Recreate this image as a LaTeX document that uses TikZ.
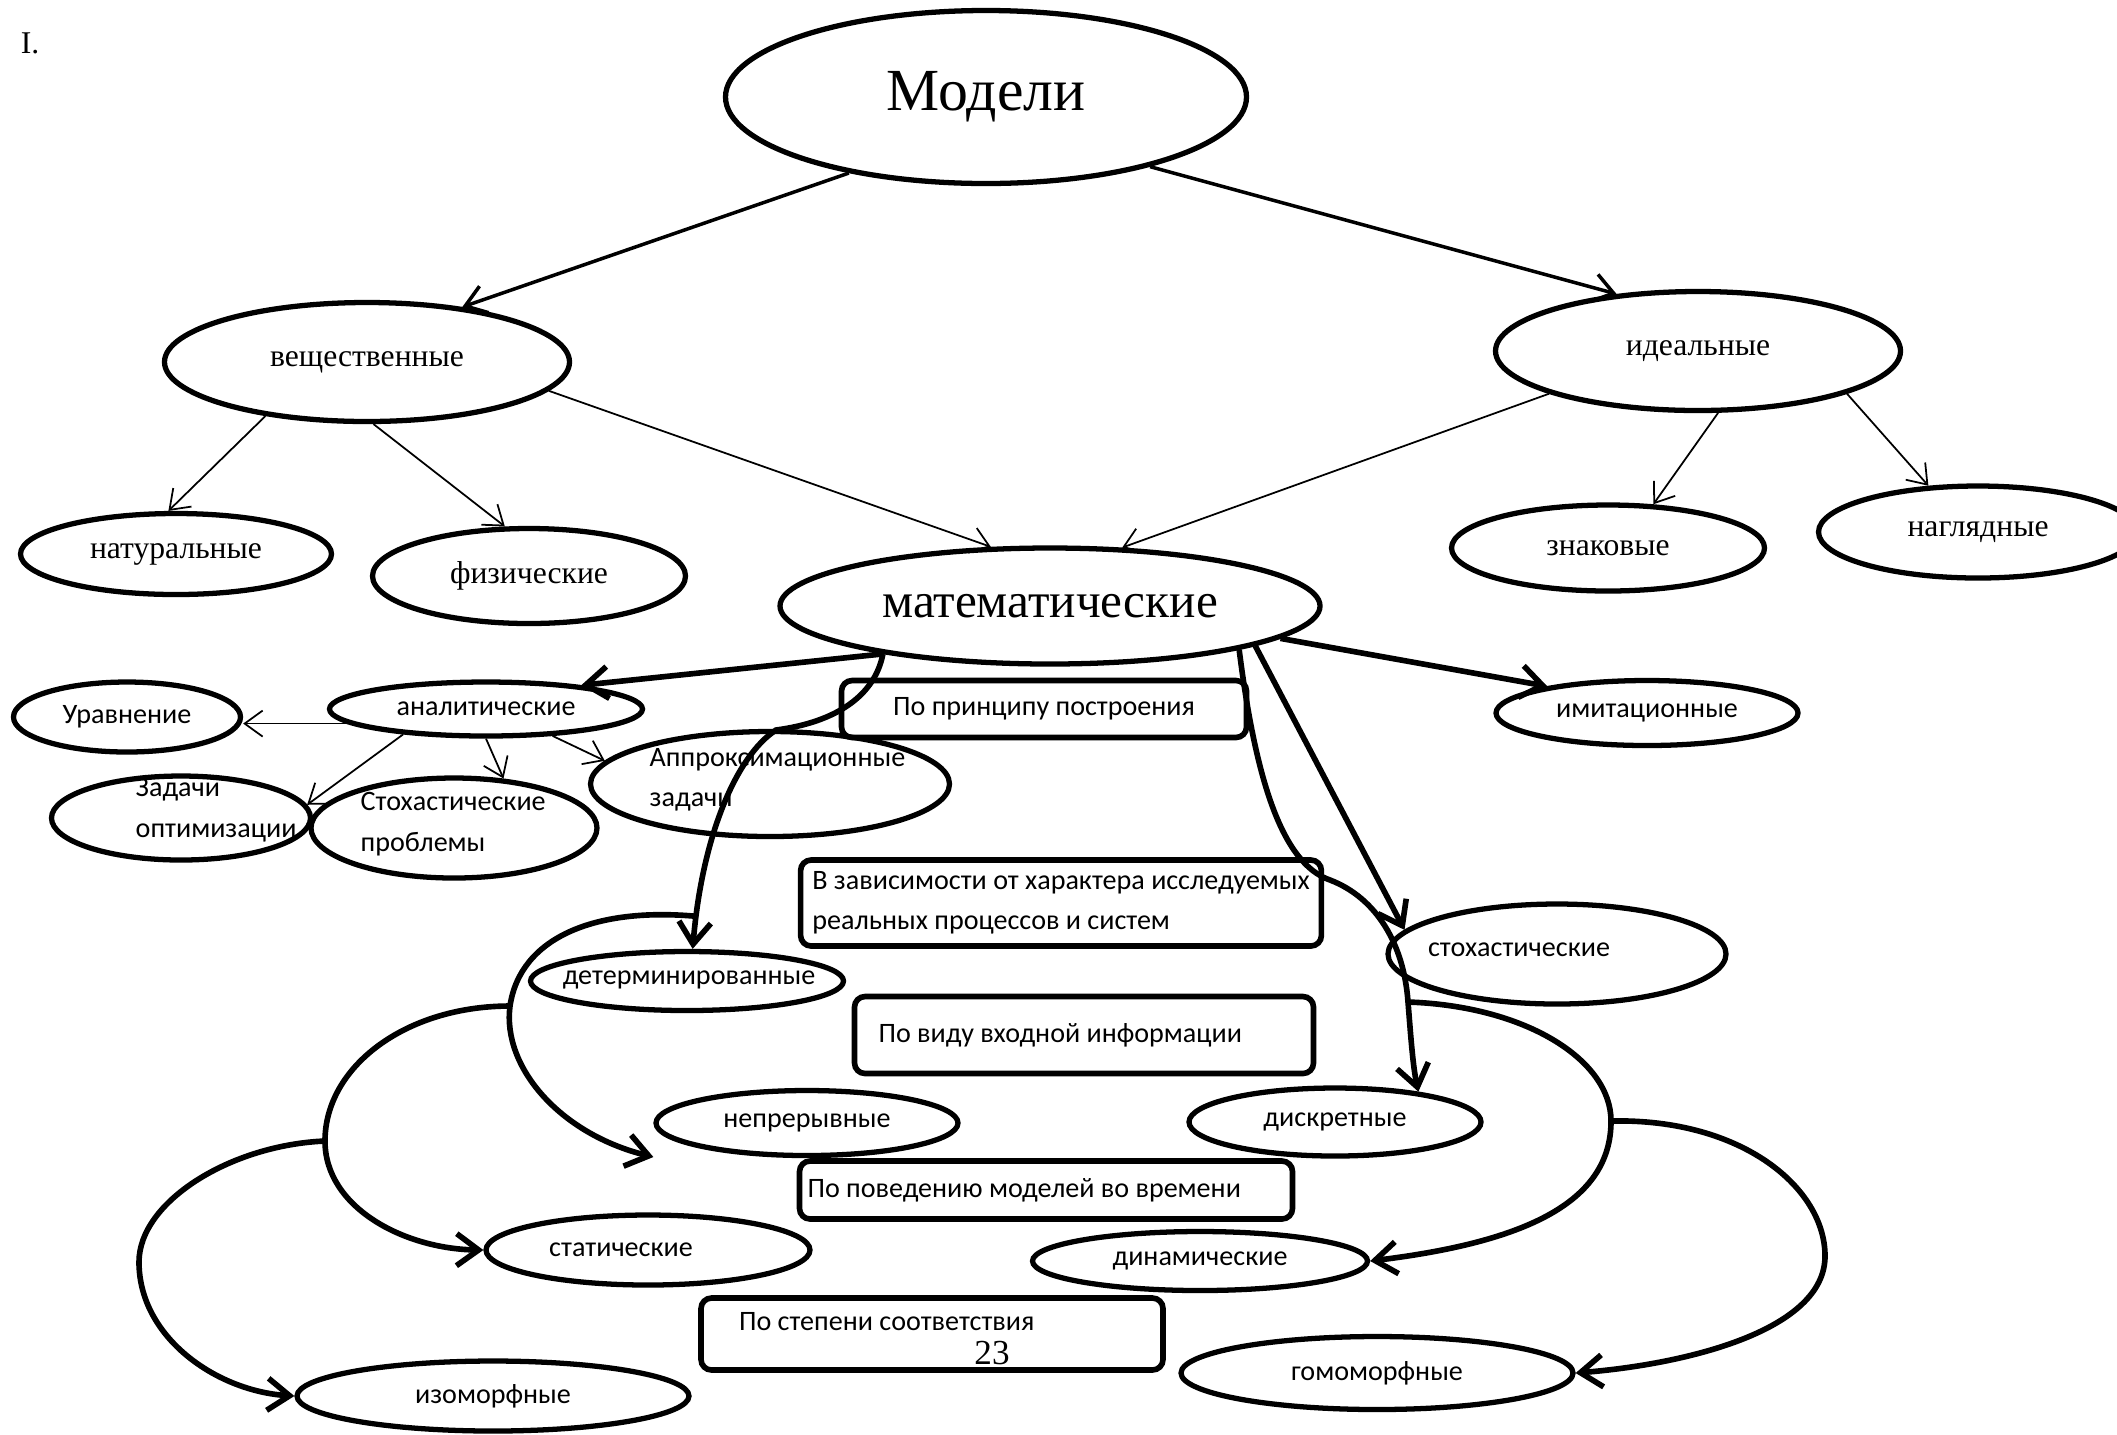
\documentclass[tikz,border=0pt]{standalone}
\usepackage{fontspec}
\setmainfont{Liberation Serif}
\newfontfamily\sansru{Carlito}
\usetikzlibrary{arrows.meta,shapes.geometric}

\begin{document}
\begin{tikzpicture}[
  font=\fontsize{9}{11}\selectfont,
  oval/.style={draw, ellipse, line width=1.5pt, inner sep=0pt},
  sansoval/.style={oval, font=\sansru\fontsize{8}{11.5}\selectfont},
  ovaltxt/.style={inner sep=0pt, align=left, font=\sansru\fontsize{8}{11.5}\selectfont},
  critbox/.style={draw, rounded corners=3pt, line width=1.6pt, inner ysep=0pt,
                  align=flush left, font=\sansru\fontsize{8}{11.5}\selectfont},
  thinarr/.style={-{Straight Barb[length=1.8mm, width=2.6mm]}, line width=0.5pt},
  midarr/.style={-{Straight Barb[length=2mm, width=2.8mm]}, line width=1pt},
  boldarr/.style={-{Straight Barb[length=2.2mm, width=3.2mm]}, line width=1.6pt}
]
\useasboundingbox (0,0) rectangle (21.17,-14.34);
%--- Level 1 ----------------------------------------------------------------
\node (roman) at (0.30,-0.43) {I.};
\node[oval, minimum width=5.21cm, minimum height=1.73cm,
      font=\fontsize{17}{20}\selectfont] (model) at (9.86,-0.97) {Модели};
%--- Level 2 ----------------------------------------------------------------
\node[oval, minimum width=4.05cm, minimum height=1.19cm] (veshch) at (3.67,-3.62) {вещественные};
\node[oval, minimum width=4.05cm, minimum height=1.19cm] (ideal)  at (16.98,-3.51) {идеальные};
%--- Level 3 ----------------------------------------------------------------
\node[oval, minimum width=3.11cm, minimum height=0.81cm] (natur) at (1.76,-5.54) {натуральные};
\node[oval, minimum width=3.13cm, minimum height=0.95cm] (fiz)   at (5.29,-5.76) {физические};
\node[oval, minimum width=5.40cm, minimum height=1.16cm,
      font=\fontsize{14}{16}\selectfont] (mat) at (10.50,-6.06) {математические};
\node[oval, minimum width=3.13cm, minimum height=0.86cm] (znak)  at (16.08,-5.48) {знаковые};
\node[oval, minimum width=3.19cm, minimum height=0.92cm] (nagl)  at (19.78,-5.32) {наглядные};
%--- Kinds of mathematical models -------------------------------------------
\node[sansoval, minimum width=3.13cm, minimum height=0.54cm] (analyt) at (4.86,-7.09) {аналитические};
\node[sansoval, minimum width=2.27cm, minimum height=0.70cm] (urav)   at (1.27,-7.17) {Уравнение};
\node[sansoval, minimum width=2.59cm, minimum height=0.84cm] (optim)  at (1.81,-8.18) {};
\node[sansoval, minimum width=2.86cm, minimum height=1.00cm] (stohp)  at (4.54,-8.28) {};
\node[sansoval, minimum width=3.59cm, minimum height=1.05cm] (approx) at (7.70,-7.84) {};
\node[sansoval, minimum width=3.02cm, minimum height=0.65cm] (imit)   at (16.47,-7.13) {имитационные};
\node[sansoval, minimum width=3.38cm, minimum height=1.00cm] (stoch)  at (15.57,-9.54) {};
\node[sansoval, minimum width=3.13cm, minimum height=0.59cm] (deter)  at (6.87,-9.81) {};
\node[sansoval, minimum width=3.02cm, minimum height=0.65cm] (nepr)   at (8.07,-11.23) {непрерывные};
\node[sansoval, minimum width=2.92cm, minimum height=0.68cm] (diskr)  at (13.35,-11.22) {дискретные};
\node[sansoval, minimum width=3.24cm, minimum height=0.70cm] (stat)   at (6.48,-12.50) {};
\node[sansoval, minimum width=3.35cm, minimum height=0.59cm] (dinam)  at (12.00,-12.61) {динамические};
\node[sansoval, minimum width=3.92cm, minimum height=0.70cm] (izo)    at (4.93,-13.96) {изоморфные};
\node[sansoval, minimum width=3.92cm, minimum height=0.73cm] (homo)   at (13.77,-13.73) {гомоморфные};
%--- Texts set off the centre of their ovals --------------------------------
\node[ovaltxt, anchor=west] (optimtxt)  at (1.35,-8.10) {Задачи\\оптимизации};
\node[ovaltxt, anchor=west] (stohptxt)  at (3.60,-8.24) {Стохастические\\проблемы};
\node[ovaltxt, anchor=west] (approxtxt) at (6.49,-7.80) {Аппроксимационные\\задачи};
\node[ovaltxt] (stochtxt) at (15.19,-9.50) {стохастические};
\node[ovaltxt] (detertxt) at (6.89,-9.80) {детерминированные};
\node[ovaltxt] (stattxt)  at (6.21,-12.50) {статические};
%--- Criteria boxes ---------------------------------------------------------
\node[critbox, minimum width=4.05cm, minimum height=0.57cm, align=center] (princip) at (10.44,-7.09) {По принципу построения};
\node[critbox, minimum width=5.16cm, minimum height=0.86cm] (harakter) at (10.61,-9.03)
  {В зависимости от характера исследуемых\\реальных процессов и систем};
\node[critbox, text width=4.11cm, inner xsep=0.24cm, minimum height=0.77cm] (vhod) at (10.84,-10.35) {По виду входной информации};
\node[critbox, text width=4.77cm, inner xsep=0.08cm, minimum height=0.58cm] (vremya) at (10.46,-11.90) {По поведению моделей во времени};
\node[critbox, text width=3.86cm, inner xsep=0.38cm, text depth=0.25cm,
      minimum height=0.72cm] (sootv) at (9.32,-13.34) {По степени соответствия};
\node[font=\fontsize{10}{12}\selectfont] (pagenum) at (9.92,-13.53) {23};
%--- Arrows: Модели -> level 2 ----------------------------------------------
\draw[midarr] (model.209) -- (veshch.30);
\draw[midarr] (model.-23) -- (ideal.145);
%--- Arrows: level 2 -> level 3 ---------------------------------------------
\draw[thinarr] (veshch.208) -- (natur.100);
\draw[thinarr] (veshch.-84) -- (fiz.116);
\draw[thinarr] (veshch.-9)  -- (mat.135);
\draw[thinarr] (ideal.196)  -- (mat.39);
\draw[thinarr] (ideal.-72)  -- (znak.44);
\draw[thinarr] (ideal.-16)  -- (nagl.137);
%--- Arrows: математические -> kinds ----------------------------------------
\draw[boldarr] (mat.196) -- (analyt.14);
\draw[boldarr] (mat.-8)  -- (imit.165);
\draw[boldarr] (mat.-11) -- (stoch.171);
%--- Arrows: аналитические -> tasks -----------------------------------------
\draw[thinarr] (analyt.186) -- (analyt.186 -| urav.east);
\draw[thinarr] (analyt.197) -- (optim.6);
\draw[thinarr] (analyt.south) -- (stohp.45);
\draw[thinarr] (analyt.-22) -- (approx.172);
%--- Curves: left branch ----------------------------------------------------
\draw[boldarr] (mat.196) .. controls (8.75,-6.95) and (8.37,-7.22) .. (7.76,-7.30)
  .. controls (7.36,-7.56) and (7.02,-8.37) .. (deter.80) coordinate[pos=0.9] (brD);
\draw[boldarr] (brD) .. controls (5.94,-9.07) and (5.20,-9.38) .. (5.10,-10.06) coordinate (brA)
  .. controls (5.02,-10.67) and (5.60,-11.34) .. ([yshift=-0.34cm]nepr.west);
\draw[boldarr] (brA) .. controls (4.05,-10.06) and (3.25,-10.67) .. (3.25,-11.41) coordinate (brB)
  .. controls (3.25,-12.08) and (4.05,-12.49) .. (stat.west);
\draw[boldarr] (brB) .. controls (2.30,-11.45) and (1.39,-12.02) .. (1.39,-12.62)
  .. controls (1.39,-13.37) and (2.16,-13.91) .. (izo.west);
%--- Curves: right branch ---------------------------------------------------
\draw[boldarr] (mat.-13) .. controls (12.56,-7.83) and (12.83,-8.64) .. (13.30,-8.80)
  .. controls (13.77,-8.98) and (14.04,-9.45) .. (14.08,-10.02) coordinate (brC)
  .. controls (14.11,-10.40) and (14.13,-10.67) .. (diskr.20);
\draw[boldarr] (brC) .. controls (15.26,-10.06) and (16.11,-10.60) .. (16.11,-11.21) coordinate (brE)
  .. controls (16.11,-12.02) and (15.26,-12.42) .. (dinam.east);
\draw[boldarr] (brE) .. controls (17.42,-11.18) and (18.25,-11.88) .. (18.25,-12.56)
  .. controls (18.25,-13.30) and (16.88,-13.64) .. (homo.east);
\end{tikzpicture}
\end{document}
